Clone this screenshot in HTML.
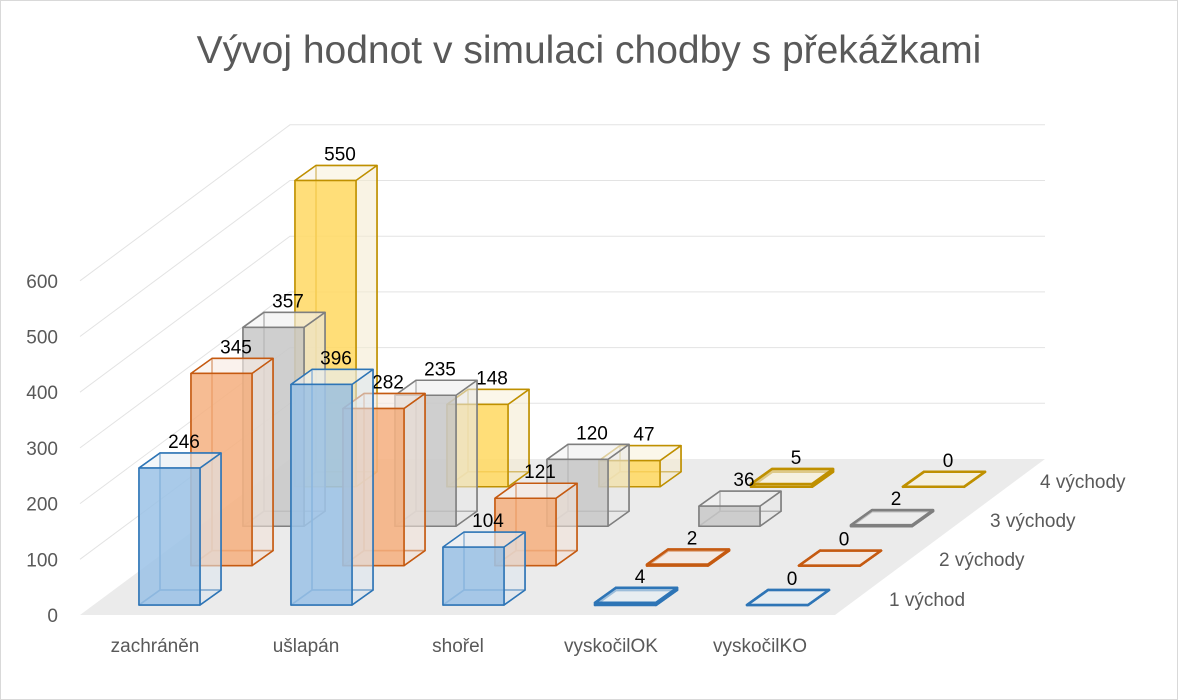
<!DOCTYPE html>
<html><head><meta charset="utf-8"><style>
html,body{margin:0;padding:0;background:#fff;}
svg{display:block;font-family:"Liberation Sans",sans-serif;}
</style></head><body>
<svg id="c" width="1178" height="700" xmlns="http://www.w3.org/2000/svg">
<rect x="0.5" y="0.5" width="1177" height="699" fill="#fff" stroke="#d9d9d9"/>
<text x="589" y="63" text-anchor="middle" font-size="39" fill="#595959">Vývoj hodnot v simulaci chodby s překážkami</text>
<polygon points="80,615 835,615 1045,459 290,459" fill="#ebebeb"/>
<g id="grid" stroke="#e3e3e3" stroke-width="1" fill="none"></g>
<g id="ylab" font-size="19" fill="#595959" text-anchor="end"></g>
<g id="bars"></g>
<g font-size="19" fill="#595959" text-anchor="middle">
<text x="155" y="652">zachráněn</text>
<text x="306" y="652">ušlapán</text>
<text x="458" y="652">shořel</text>
<text x="611" y="652">vyskočilOK</text>
<text x="760" y="652">vyskočilKO</text>
</g>
<g font-size="19" fill="#595959">
<text x="889" y="606">1 východ</text>
<text x="939" y="566">2 východy</text>
<text x="990" y="527">3 východy</text>
<text x="1040" y="488">4 východy</text>
</g>
</svg>
<script>
var NS="http://www.w3.org/2000/svg";
function el(p,t,a,txt){var e=document.createElementNS(NS,t);for(var k in a)e.setAttribute(k,a[k]);if(txt!==undefined)e.textContent=txt;p.appendChild(e);return e;}
var g=document.getElementById('grid'),yl=document.getElementById('ylab'),b=document.getElementById('bars');
var sc=0.557;
for(var k=0;k<=6;k++){var d=k*100*sc;
 if(k>0) el(g,'polyline',{points:"80,"+(615-d)+" 290,"+(459-d)+" 1045,"+(459-d)});
 el(yl,'text',{x:58,y:622-d},String(k*100));
}
var data=[[246,396,104,4,0],[345,282,121,2,0],[357,235,120,36,2],[550,148,47,5,0]];
var fill=["#9dc3e6","#f4b183","#c9c9c9","#ffd966"],str=["#2e75b6","#c55a11","#7f7f7f","#bf9000"];
var W=61,DX=21,DY=15;
for(var s=3;s>=0;s--){
 for(var c=0;c<5;c++){
  var v=data[s][c],x=139+152*c+52*s,yb=605-39.4*s,h=v*sc,yt=yb-h;
  var gg=el(b,'g',{'stroke':str[s],'stroke-width':(v<10?2.5:1.5),'stroke-linejoin':'round'});
  el(gg,'rect',{x:x+DX,y:yt-DY,width:W,height:h,fill:fill[s],'fill-opacity':0.25});
  el(gg,'polygon',{points:[x,yb,x+W,yb,x+W+DX,yb-DY,x+DX,yb-DY].join(' '),fill:fill[s],'fill-opacity':0.3});
  el(gg,'polygon',{points:[x,yb,x+DX,yb-DY,x+DX,yt-DY,x,yt].join(' '),fill:fill[s],'fill-opacity':0.15});
  el(gg,'polygon',{points:[x+W,yb,x+W+DX,yb-DY,x+W+DX,yt-DY,x+W,yt].join(' '),fill:'#f2f2f2','fill-opacity':0.45});
  el(gg,'polygon',{points:[x,yt,x+W,yt,x+W+DX,yt-DY,x+DX,yt-DY].join(' '),fill:'#f7f7f7','fill-opacity':0.55});
  if(v>=10) el(gg,'rect',{x:x,y:yt,width:W,height:h,fill:fill[s],'fill-opacity':0.85});
  el(b,'text',{x:x+45,y:yt-DY-5,'font-size':19,fill:'#000','text-anchor':'middle'},String(v));
 }
}
</script>
</body></html>
